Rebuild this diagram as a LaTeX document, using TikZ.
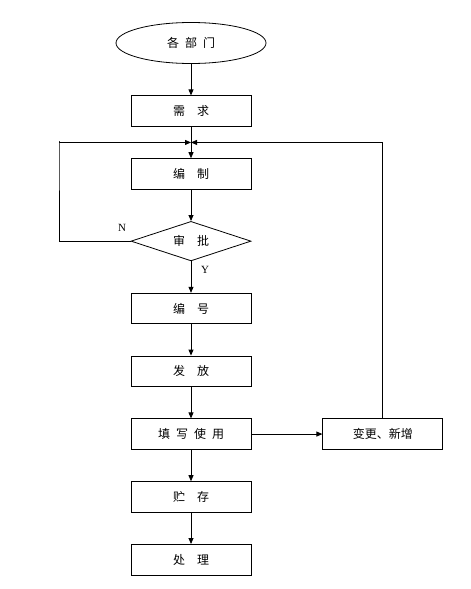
\documentclass[tikz,border=0pt]{standalone}
\usepackage{fontspec}
\setmainfont{Liberation Serif}
\newfontfamily\cjk{Noto Sans CJK SC}
\usetikzlibrary{shapes.geometric, arrows.meta, positioning, calc}
\tikzset{
    block/.style={rectangle, draw, line width=0.8pt, minimum width=120pt, minimum height=30.5pt, inner sep=0pt, text centered, font=\cjk\fontsize{12}{14}\selectfont},
    block_oval/.style={ellipse, draw, line width=0.8pt, minimum width=150pt, minimum height=41pt, inner sep=0pt, font=\cjk\fontsize{12}{14}\selectfont},
    block_check/.style={diamond, draw, aspect=3, line width=0.8pt, minimum width=120pt, minimum height=39.5pt, inner sep=0pt, font=\cjk\fontsize{12}{14}\selectfont},
    arrow/.style={-{Triangle[length=6pt, width=5pt]}, line width=0.8pt},
    lab/.style={font=\fontsize{11}{13}\selectfont}
}
\begin{document}
\begin{tikzpicture}[x=1pt, y=-1pt, node distance=31.5pt and 71pt]
            \useasboundingbox (0,0) rectangle (471,589);
			\node (dept) [block_oval] at (191,43) {各\enspace 部\enspace 门};
			\node (need) [block, below=of dept] {需\quad 求};
			\node (make) [block, below=of need] {编\quad 制};
			\node (check) [block_check, below=of make] {审\quad 批};
			\node (num) [block, below=of check] {编\quad 号};
			\node (issue) [block, below=of num] {发\quad 放};
			\node (use) [block, below=of issue] {填\enspace 写\enspace 使\enspace 用};
			\node (change) [block, right=of use] {变更、新增};
			\node (store) [block, below=of use] {贮\quad 存};
			\node (dispose) [block, below=of store] {处\quad 理};
            \coordinate (merge) at ($(need.south)!0.5!(make.north)$);
            \coordinate (loopleft) at (59,141);
            \node (nlab) [lab] at (122,228) {N};
            \node (ylab) [lab] at (205,270) {Y};

			\draw [arrow] (dept) -- (need);
			\draw [arrow] (need) -- (make);
			\draw [arrow] (make) -- (check);
			\draw [arrow] (check) -- (num);
			\draw [arrow] (num) -- (issue);
			\draw [arrow] (issue) -- (use);
			\draw [arrow] (use) -- (store);
			\draw [arrow] (store) -- (dispose);
			\draw [arrow] (use) -- (change);
            \draw [arrow] (check.west) -| (loopleft) |- (merge);
            \draw [arrow] (change.north) |- (merge);
		\end{tikzpicture}
\end{document}
